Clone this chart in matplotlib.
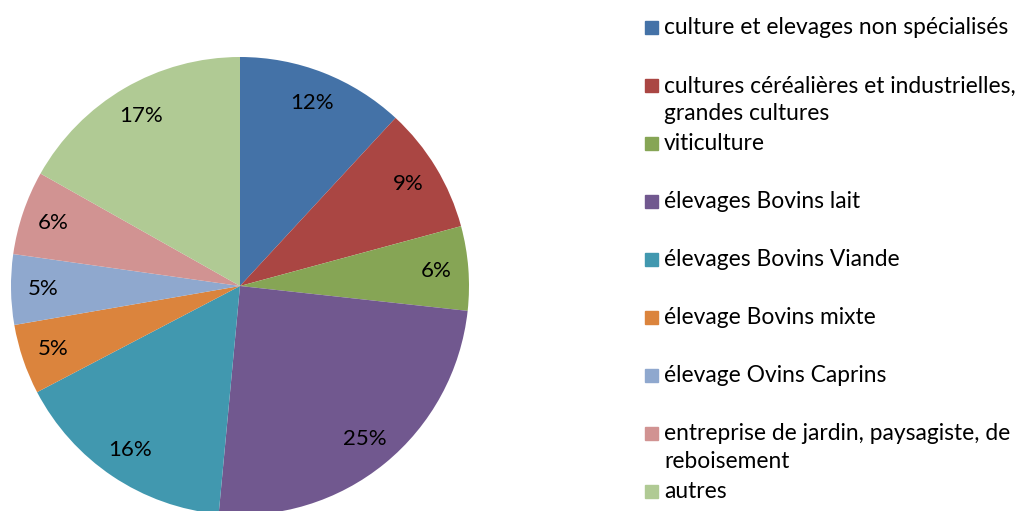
import matplotlib
matplotlib.use("Agg")
import matplotlib.pyplot as plt
from matplotlib.patches import Rectangle

categories = ["culture et elevages non spécialisés",
              "cultures céréalières et industrielles,\ngrandes cultures",
              "viticulture",
              "élevages Bovins lait",
              "élevages Bovins Viande",
              "élevage Bovins mixte",
              "élevage Ovins Caprins",
              "entreprise de jardin, paysagiste, de\nreboisement",
              "autres"]
values = [12, 9, 6, 25, 16, 5, 5, 6, 17]
colors = ["#4472A7", "#AA4643", "#86A555", "#71588F", "#4198AF",
          "#DB843D", "#8FA8CE", "#D19392", "#B0CA94"]

plt.rcParams['font.family'] = ['Lato', 'DejaVu Sans']

W, H = 1019, 511
fig = plt.figure(figsize=(W/100, H/100), dpi=100)

# pie centre (240, 286) px, radius 229 px
r = 229
ax = fig.add_axes([(240 - r)/W, (H - 286 - r)/H, 2*r/W, 2*r/H])
wedges, texts = ax.pie(values, colors=colors, startangle=90, counterclock=False,
                       labels=[f"{v}%" for v in values], labeldistance=0.86,
                       textprops=dict(fontsize=16, ha='center', va='center'))
ax.set_xlim(-1, 1)
ax.set_ylim(-1, 1)
ax.set_aspect('equal')
for w in wedges:
    w.set_clip_on(False)

# legend drawn by hand, first line of each entry at a fixed step
y0, step, line_h = 28, 57.9, 28
for i, (lab, c) in enumerate(zip(categories, colors)):
    y = y0 + i*step
    fig.patches.append(Rectangle((645/W, (H - y - 6.5)/H), 13/W, 13/H,
                                 transform=fig.transFigure, color=c))
    for j, line in enumerate(lab.split("\n")):
        fig.text(664/W, (H - y - j*line_h)/H, line, fontsize=16.4,
                 ha='left', va='center')

fig.savefig("out.png", dpi=100)
